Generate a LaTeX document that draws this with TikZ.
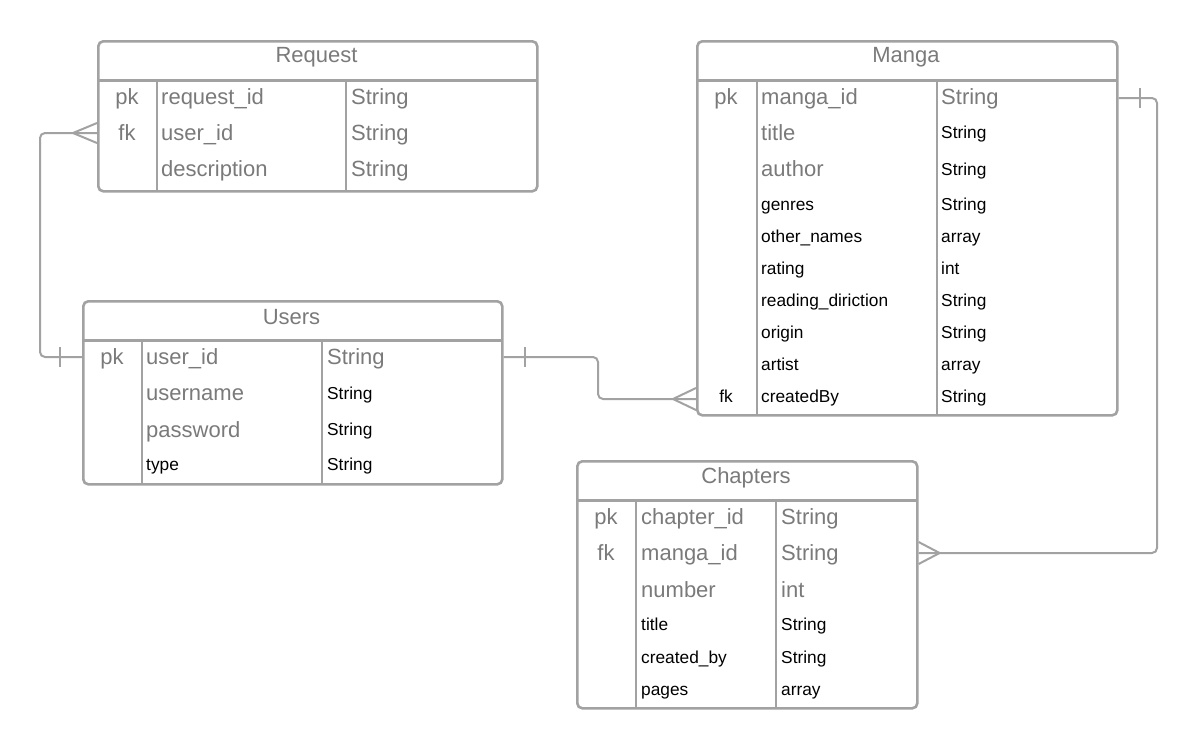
\documentclass[tikz,border=0pt]{standalone}
\usepackage{fontspec}
\setmainfont{Liberation Sans}
\definecolor{linegray}{HTML}{A2A2A2}
\definecolor{txtgray}{HTML}{7A7A7A}
\begin{document}
\begin{tikzpicture}[x=1pt,y=-1pt,
  frame/.style={draw=linegray, line width=2.6pt, rounded corners=5pt, anchor=north west, inner sep=0pt},
  rule/.style={draw=linegray, line width=2.6pt},
  link/.style={draw=linegray, line width=2pt, rounded corners=5pt},
  tip/.style={draw=linegray, line width=2pt},
  big/.style={text=txtgray, font=\fontsize{22}{26}\selectfont, inner sep=0pt},
  small/.style={text=black, font=\fontsize{17.3}{20}\selectfont, inner sep=0pt},
  bigl/.style={big, anchor=base west},
  smalll/.style={small, anchor=base west},
  bigc/.style={big, anchor=base},
  smallc/.style={small, anchor=base},
  title/.style={big, anchor=center}]
\useasboundingbox (0,0) rectangle (1198,747);

% ---------- Request ----------
\node[frame, minimum width=439pt, minimum height=150pt] (request) at (97,40) {};
\draw[rule] (97,80.7) -- (536,80.7);
\draw[rule] (157,80.7) -- (157,190);
\draw[rule] (346,80.7) -- (346,190);
\node[title] (reqhead) at (316.5,57.5) {Request};
\node[bigc] (reqk1) at (127,104.5) {pk};
\node[bigl] (reqn1) at (161,104.5) {request\_id};
\node[bigl] (reqt1) at (351,104.5) {String};
\node[bigc] (reqk2) at (127,140) {fk};
\node[bigl] (reqn2) at (161,140) {user\_id};
\node[bigl] (reqt2) at (351,140) {String};
\node[bigl] (reqn3) at (161,176.5) {description};
\node[bigl] (reqt3) at (351,176.5) {String};

% ---------- Users ----------
\node[frame, minimum width=419pt, minimum height=183pt] (users) at (82,300) {};
\draw[rule] (82,340.7) -- (501,340.7);
\draw[rule] (142,340.7) -- (142,483);
\draw[rule] (322,340.7) -- (322,483);
\node[title] (usrhead) at (291.5,317.5) {Users};
\node[bigc] (usrk1) at (112,364) {pk};
\node[bigl] (usrn1) at (146,364) {user\_id};
\node[bigl] (usrt1) at (327,364) {String};
\node[bigl] (usrn2) at (146,400.5) {username};
\node[smalll] (usrt2) at (327,399) {String};
\node[bigl] (usrn3) at (146,437) {password};
\node[smalll] (usrt3) at (327,435.5) {String};
\node[smalll] (usrn4) at (146,470.5) {type};
\node[smalll] (usrt4) at (327,470.5) {String};

% ---------- Manga ----------
\node[frame, minimum width=420pt, minimum height=374pt] (manga) at (696,40) {};
\draw[rule] (696,80.7) -- (1116,80.7);
\draw[rule] (757,80.7) -- (757,414);
\draw[rule] (937,80.7) -- (937,414);
\node[title] (mgahead) at (906,57.5) {Manga};
\node[bigc] (mgak1) at (726,104) {pk};
\node[bigl] (mgan1) at (761,104) {manga\_id};
\node[bigl] (mgat1) at (941,104) {String};
\node[bigl] (mgan2) at (761,140) {title};
\node[smalll] (mgat2) at (941,138.5) {String};
\node[bigl] (mgan3) at (761,176.5) {author};
\node[smalll] (mgat3) at (941,175.5) {String};
\node[smalll] (mgan4) at (761,210.5) {genres};
\node[smalll] (mgat4) at (941,210.5) {String};
\node[smalll] (mgan5) at (761,242.5) {other\_names};
\node[smalll] (mgat5) at (941,242.5) {array};
\node[smalll] (mgan6) at (761,274.5) {rating};
\node[smalll] (mgat6) at (941,274.5) {int};
\node[smalll] (mgan7) at (761,306.5) {reading\_diriction};
\node[smalll] (mgat7) at (941,306.5) {String};
\node[smalll] (mgan8) at (761,338.5) {origin};
\node[smalll] (mgat8) at (941,338.5) {String};
\node[smalll] (mgan9) at (761,370.5) {artist};
\node[smalll] (mgat9) at (941,370.5) {array};
\node[smallc] (mgak10) at (726,402.5) {fk};
\node[smalll] (mgan10) at (761,402.5) {createdBy};
\node[smalll] (mgat10) at (941,402.5) {String};

% ---------- Chapters ----------
\node[frame, minimum width=340pt, minimum height=247pt] (chapters) at (576,460) {};
\draw[rule] (576,500.7) -- (916,500.7);
\draw[rule] (636,500.7) -- (636,707);
\draw[rule] (776,500.7) -- (776,707);
\node[title] (chphead) at (746,477.5) {Chapters};
\node[bigc] (chpk1) at (606,524) {pk};
\node[bigl] (chpn1) at (641,524) {chapter\_id};
\node[bigl] (chpt1) at (781,524) {String};
\node[bigc] (chpk2) at (606,560.5) {fk};
\node[bigl] (chpn2) at (641,560.5) {manga\_id};
\node[bigl] (chpt2) at (781,560.5) {String};
\node[bigl] (chpn3) at (641,597) {number};
\node[bigl] (chpt3) at (781,597) {int};
\node[smalll] (chpn4) at (641,630.5) {title};
\node[smalll] (chpt4) at (781,630.5) {String};
\node[smalll] (chpn5) at (641,663) {created\_by};
\node[smalll] (chpt5) at (781,663) {String};
\node[smalll] (chpn6) at (641,695) {pages};
\node[smalll] (chpt6) at (781,695) {array};

% ---------- relationship end points ----------
\coordinate (reqfk) at (request.west |- 0,133);
\coordinate (usrpkl) at (users.west |- 0,357);
\coordinate (usrpkr) at (users.east |- 0,357);
\coordinate (mgafk) at (manga.west |- 0,399);
\coordinate (mgapk) at (manga.east |- 0,98);
\coordinate (chpfk) at (chapters.east |- 0,553);

% Request.user_id  >--|  Users.user_id
\draw[link] (reqfk) -- (40,133) -- (40,357) -- (usrpkl);
\draw[tip] (reqfk) ++(0,-10) -- ++(-24,10) -- ++(24,10);
\draw[tip] (usrpkl) ++(-22,-10) -- ++(0,20);

% Users.user_id  |--<  Manga.createdBy
\draw[link] (usrpkr) -- (598,357) -- (598,399) -- (mgafk);
\draw[tip] (usrpkr) ++(21,-10) -- ++(0,20);
\draw[tip] (mgafk) ++(0,-11) -- ++(-23,11) -- ++(23,11);

% Manga.manga_id  |--<  Chapters.manga_id
\draw[link] (mgapk) -- (1157,98) -- (1157,553) -- (chpfk);
\draw[tip] (mgapk) ++(21,-10) -- ++(0,20);
\draw[tip] (chpfk) ++(0,-11) -- ++(21,11) -- ++(-21,11);
\end{tikzpicture}
\end{document}
